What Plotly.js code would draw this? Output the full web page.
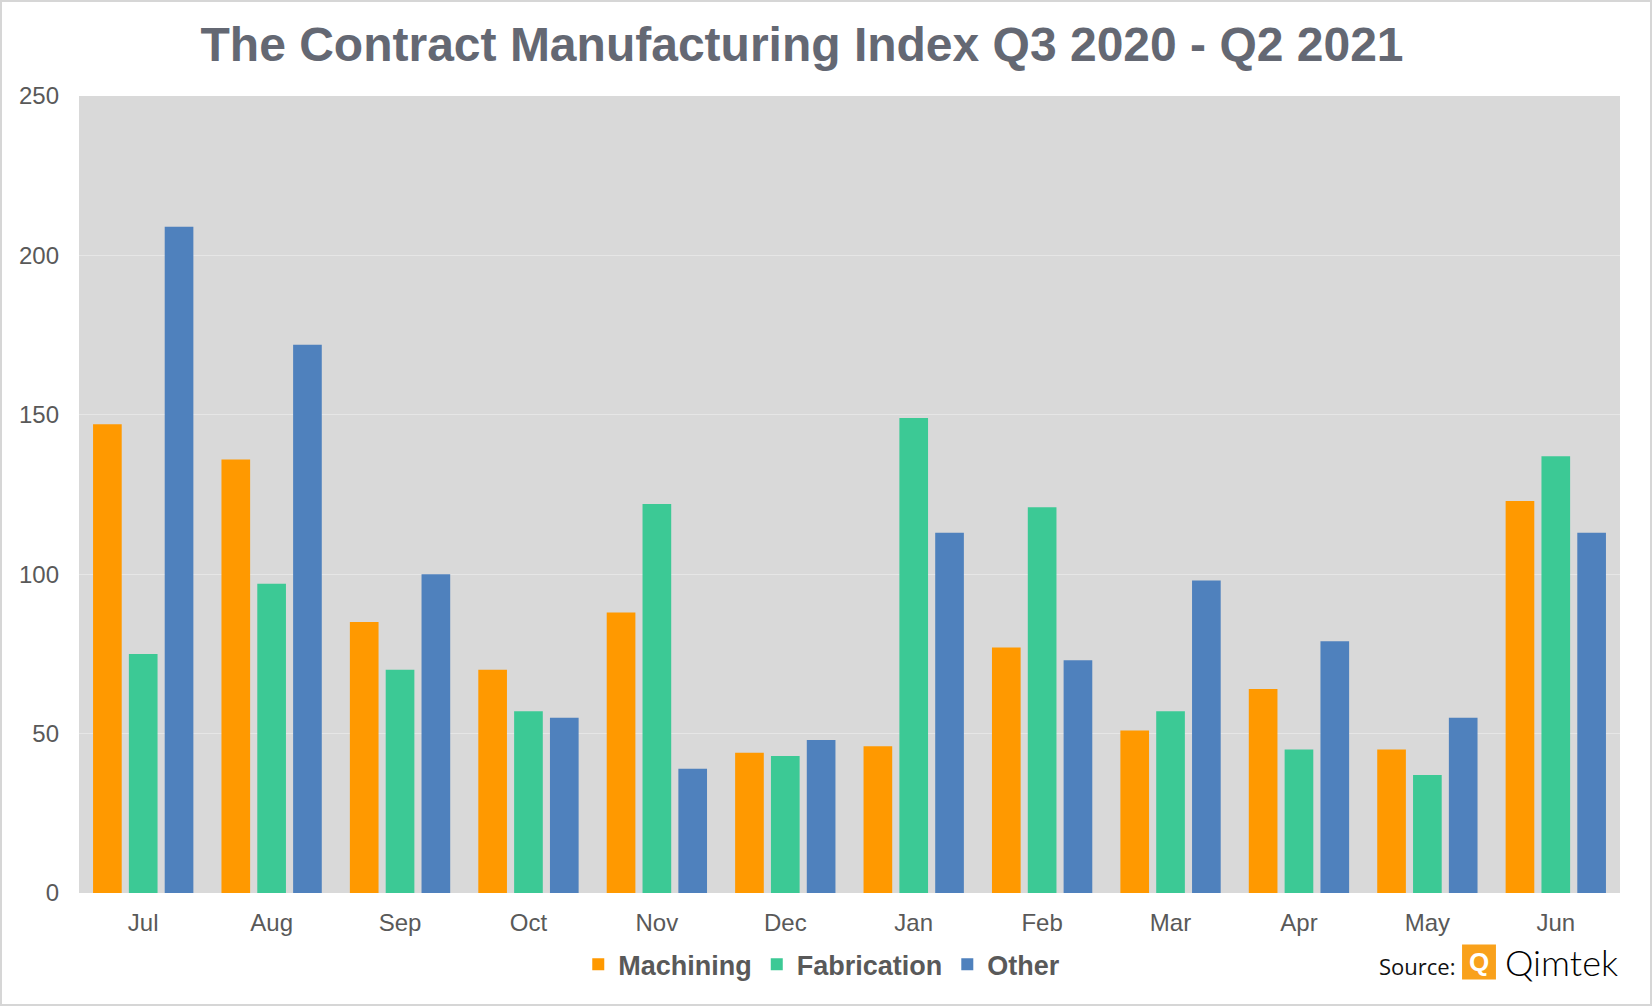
<!DOCTYPE html>
<html>
<head>
<meta charset="utf-8">
<script src="https://cdn.plot.ly/plotly-3.0.1.min.js"></script>
<style>
  body { margin: 0; background: #fff; }
  #wrap { position: relative; width: 1652px; height: 1006px; }
  #frame { position: absolute; left: 0; top: 0; width: 1652px; height: 1006px;
           box-sizing: border-box; border: 2px solid #d6d6d6; pointer-events: none; }
</style>
</head>
<body>
<div id="wrap">
  <div id="chart"></div>
  <div id="frame"></div>
</div>
<script>
// months on the x axis
const months = ['Jul', 'Aug', 'Sep', 'Oct', 'Nov', 'Dec', 'Jan', 'Feb', 'Mar', 'Apr', 'May', 'Jun'];

// index values
const machining   = [147, 136, 85, 70, 88, 44, 46, 77, 51, 64, 45, 123];
const fabrication = [75, 97, 70, 57, 122, 43, 149, 121, 57, 45, 37, 137];
const other       = [209, 172, 100, 55, 39, 48, 113, 73, 98, 79, 55, 113];

const yTicks = [0, 50, 100, 150, 200, 250];

function bar(name, values, color) {
  return {
    type: 'bar',
    name: name,
    x: months,
    y: values,
    marker: { color: color, line: { width: 0 } },
    hoverinfo: 'x+y+name'
  };
}

const traces = [
  bar('Machining', machining, '#ff9900'),
  bar('Fabrication', fabrication, '#3cc995'),
  bar('Other', other, '#4f81bd')
];

const tickFont = { family: 'Liberation Sans, Arial, sans-serif', size: 24, color: '#595959' };

const layout = {
  width: 1652,
  height: 1006,
  margin: { l: 79, r: 32, t: 96, b: 113 },
  paper_bgcolor: '#ffffff',
  plot_bgcolor: '#d9d9d9',
  barmode: 'group',
  bargap: 0.163,
  bargroupgap: 0.2,
  title: {
    text: 'The Contract Manufacturing Index Q3 2020 - Q2 2021',
    font: { family: 'Liberation Sans, Arial, sans-serif', size: 48, color: '#646873', weight: 'bold' },
    xref: 'container', x: 0.4855, xanchor: 'center',
    yref: 'container', y: 0.956, yanchor: 'middle'
  },
  xaxis: {
    type: 'category',
    tickfont: tickFont,
    showgrid: false,
    zeroline: false,
    showline: false,
    ticks: '',
    ticklabelstandoff: 13
  },
  yaxis: {
    range: [0, 250],
    tickvals: yTicks,
    tickfont: tickFont,
    gridcolor: '#e6e6e6',
    gridwidth: 1,
    zeroline: false,
    showline: false,
    ticks: '',
    ticklabelstandoff: 19
  },
  showlegend: true,
  legend: {
    orientation: 'h',
    x: 0.482, xanchor: 'center',
    y: -0.09, yanchor: 'middle',
    font: { family: 'Liberation Sans, Arial, sans-serif', size: 27, color: '#595959', weight: 'bold' },
    itemwidth: 30,
    bgcolor: 'rgba(0,0,0,0)'
  },
  shapes: [
    // orange logo square
    {
      type: 'rect', xref: 'paper', yref: 'paper',
      x0: 0.8975, x1: 0.9195, y0: -0.0645, y1: -0.1085,
      fillcolor: '#f9a11b', line: { width: 0 }
    }
  ],
  annotations: [
    {
      text: 'Source:', xref: 'paper', yref: 'paper',
      x: 0.894, xanchor: 'right', y: -0.092, yanchor: 'middle',
      showarrow: false,
      font: { family: 'Open Sans, sans-serif', size: 22, color: '#111111' }
    },
    {
      text: '<b>Q</b>', xref: 'paper', yref: 'paper',
      x: 0.9085, xanchor: 'center', y: -0.086, yanchor: 'middle',
      showarrow: false,
      font: { family: 'Liberation Sans, Arial, sans-serif', size: 26, color: '#ffffff' }
    },
    {
      text: 'Qimtek', xref: 'paper', yref: 'paper',
      x: 0.924, xanchor: 'left', y: -0.086, yanchor: 'middle',
      showarrow: false,
      font: { family: 'Lato, sans-serif', size: 36, color: '#000000', weight: 300 }
    }
  ]
};

Plotly.newPlot('chart', traces, layout, { displayModeBar: false, staticPlot: true });
</script>
</body>
</html>
